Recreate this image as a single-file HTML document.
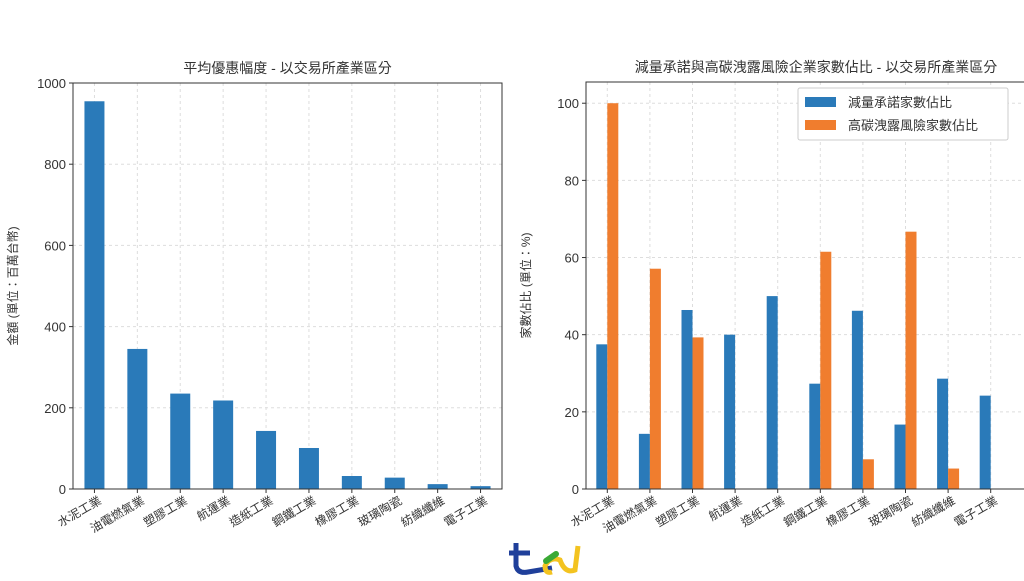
<!DOCTYPE html>
<html><head><meta charset="utf-8"><style>
body{margin:0;background:#fff;width:1024px;height:576px;overflow:hidden}
svg text{font-family:"Liberation Sans","Noto Sans CJK TC",sans-serif;fill:#333}
</style></head><body>
<svg id="s" width="1024" height="576"></svg>
<script>
const categories=["水泥工業","油電燃氣業","塑膠工業","航運業","造紙工業","鋼鐵工業","橡膠工業","玻璃陶瓷","紡織纖維","電子工業"];
const leftValues=[955,345,235,218,143,101,32,28,12,7];
const leftTicks=[0,200,400,600,800,1000];
const commitValues=[37.5,14.3,46.4,40,50,27.3,46.2,16.7,28.6,24.2];
const riskValues=[100,57.1,39.3,0,0,61.5,7.7,66.7,5.3,0];
const rightTicks=[0,20,40,60,80,100];
const NS="http://www.w3.org/2000/svg";
const svg=document.getElementById('s');
function el(tag,attrs,parent){const e=document.createElementNS(NS,tag);for(const k in attrs)e.setAttribute(k,attrs[k]);(parent||svg).appendChild(e);return e;}
function axes(L,R,FR,T,B,ymax,ticks,title,ylabel,name){
  const g=el('g',{});
  
  
  const y=v=>B-(v/ymax)*(B-T);
  const step=(R-L)/categories.length;
  const x=i=>L+step*(i+0.5);
  ticks.forEach(t=>{
    const gl=el('line',{x1:L,x2:FR,y1:y(t),y2:y(t),stroke:'#ddd','stroke-dasharray':'3,3'},g);
    
    
    el('line',{x1:L-4,x2:L,y1:y(t),y2:y(t),stroke:'#333'},g);
    const tx=el('text',{x:L-7,y:y(t)+5,'text-anchor':'end','font-size':13},g);
    tx.textContent=t;
    
    
  });
  categories.forEach((c,i)=>{
    el('line',{x1:x(i),x2:x(i),y1:T,y2:B,stroke:'#ddd','stroke-dasharray':'3,3'},g);
    el('line',{x1:x(i),x2:x(i),y1:B,y2:B+4,stroke:'#333'},g);
    const tx=el('text',{x:x(i)+8,y:B+14,'text-anchor':'end','font-size':12,transform:`rotate(-30 ${x(i)+8} ${B+14})`},g);
    tx.textContent=c;
    
    
  });
  const t=el('text',{x:(L+FR)/2,y:T-10,'text-anchor':'middle','font-size':14},g);
  t.textContent=title;
  
  
  const yl=el('text',{x:0,y:0,'text-anchor':'middle','font-size':12,transform:`translate(${L-56} ${(T+B)/2}) rotate(-90)`},g);
  yl.textContent=ylabel;
  
  
  return {g,x,y,step};
}
// left
const A=axes(73,502,502,83,489,1000,leftTicks,"平均優惠幅度 - 以交易所產業區分","金額 (單位：百萬台幣)","left-chart");
leftValues.forEach((v,i)=>{
  const r=el('rect',{x:A.x(i)-10,y:A.y(v),width:20,height:A.y(0)-A.y(v),fill:'#2a7ab9'},A.g);
  
  
});
el('rect',{x:73,y:83,width:429,height:406,fill:'none',stroke:'#333'},A.g);
// right
const B=axes(586,1012,1046,82,489,105.5,rightTicks,"減量承諾與高碳洩露風險企業家數佔比 - 以交易所產業區分","家數佔比 (單位：%)","right-chart");
commitValues.forEach((v,i)=>{
  const r=el('rect',{x:B.x(i)-11,y:B.y(v),width:11,height:B.y(0)-B.y(v),fill:'#2a7ab9'},B.g);
  
  
});
riskValues.forEach((v,i)=>{
  const r=el('rect',{x:B.x(i),y:B.y(v),width:11,height:B.y(0)-B.y(v),fill:'#f07d2e'},B.g);
  
  
});
el('rect',{x:586,y:82,width:460,height:407,fill:'none',stroke:'#333'},B.g);
const lg=el('g',{},B.g);


el('rect',{x:798,y:88,width:210,height:52,fill:'#fff',stroke:'#ccc',rx:2},lg);
el('rect',{x:805,y:97,width:31,height:10,fill:'#2a7ab9'},lg);
el('rect',{x:805,y:120,width:31,height:10,fill:'#f07d2e'},lg);
const l1=el('text',{x:848,y:107,'font-size':13},lg);l1.textContent="減量承諾家數佔比";

const l2=el('text',{x:848,y:130,'font-size':13},lg);l2.textContent="高碳洩露風險家數佔比";

// logo
const lo=el('g',{},svg);


el('path',{d:'M516 543 L516 566 Q518 574 528 572 L552 568',fill:'none',stroke:'#1f3f9a','stroke-width':5},lo);
el('path',{d:'M509 553 L530 553',fill:'none',stroke:'#1f3f9a','stroke-width':5},lo);
el('path',{d:'M552 572 Q545 574 545 566 Q550 556 560 560 Q565 574 575 570 L578 546',fill:'none',stroke:'#f3c320','stroke-width':5},lo);
el('line',{x1:546,y1:561,x2:556,y2:554,stroke:'#3aa935','stroke-width':6,'stroke-linecap':'round'},lo);
</script>
</body></html>
